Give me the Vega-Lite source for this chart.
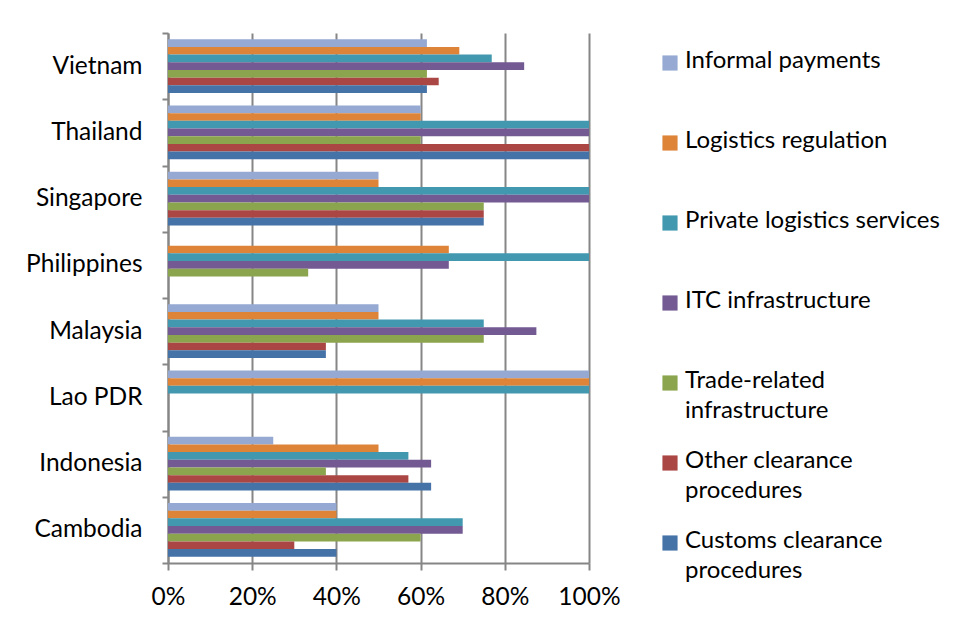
{
  "$schema": "https://vega.github.io/schema/vega-lite/v6.json",
  "width": 421,
  "height": 530,
  "autosize": {"type": "none"},
  "padding": {"left": 168, "top": 33, "right": 368, "bottom": 66},
  "background": "white",
  "config": {"view": {"stroke": null}, "font": "Lato"},
  "data": {
    "values": [
      {"country": "Vietnam", "factor": "Informal payments", "value": 0.615},
      {"country": "Vietnam", "factor": "Logistics regulation", "value": 0.692},
      {"country": "Vietnam", "factor": "Private logistics services", "value": 0.769},
      {"country": "Vietnam", "factor": "ITC infrastructure", "value": 0.846},
      {"country": "Vietnam", "factor": "Trade-related infrastructure", "value": 0.615},
      {"country": "Vietnam", "factor": "Other clearance procedures", "value": 0.643},
      {"country": "Vietnam", "factor": "Customs clearance procedures", "value": 0.615},
      {"country": "Thailand", "factor": "Informal payments", "value": 0.6},
      {"country": "Thailand", "factor": "Logistics regulation", "value": 0.6},
      {"country": "Thailand", "factor": "Private logistics services", "value": 1.0},
      {"country": "Thailand", "factor": "ITC infrastructure", "value": 1.0},
      {"country": "Thailand", "factor": "Trade-related infrastructure", "value": 0.6},
      {"country": "Thailand", "factor": "Other clearance procedures", "value": 1.0},
      {"country": "Thailand", "factor": "Customs clearance procedures", "value": 1.0},
      {"country": "Singapore", "factor": "Informal payments", "value": 0.5},
      {"country": "Singapore", "factor": "Logistics regulation", "value": 0.5},
      {"country": "Singapore", "factor": "Private logistics services", "value": 1.0},
      {"country": "Singapore", "factor": "ITC infrastructure", "value": 1.0},
      {"country": "Singapore", "factor": "Trade-related infrastructure", "value": 0.75},
      {"country": "Singapore", "factor": "Other clearance procedures", "value": 0.75},
      {"country": "Singapore", "factor": "Customs clearance procedures", "value": 0.75},
      {"country": "Philippines", "factor": "Logistics regulation", "value": 0.667},
      {"country": "Philippines", "factor": "Private logistics services", "value": 1.0},
      {"country": "Philippines", "factor": "ITC infrastructure", "value": 0.667},
      {"country": "Philippines", "factor": "Trade-related infrastructure", "value": 0.333},
      {"country": "Malaysia", "factor": "Informal payments", "value": 0.5},
      {"country": "Malaysia", "factor": "Logistics regulation", "value": 0.5},
      {"country": "Malaysia", "factor": "Private logistics services", "value": 0.75},
      {"country": "Malaysia", "factor": "ITC infrastructure", "value": 0.875},
      {"country": "Malaysia", "factor": "Trade-related infrastructure", "value": 0.75},
      {"country": "Malaysia", "factor": "Other clearance procedures", "value": 0.375},
      {"country": "Malaysia", "factor": "Customs clearance procedures", "value": 0.375},
      {"country": "Lao PDR", "factor": "Informal payments", "value": 1.0},
      {"country": "Lao PDR", "factor": "Logistics regulation", "value": 1.0},
      {"country": "Lao PDR", "factor": "Private logistics services", "value": 1.0},
      {"country": "Indonesia", "factor": "Informal payments", "value": 0.25},
      {"country": "Indonesia", "factor": "Logistics regulation", "value": 0.5},
      {"country": "Indonesia", "factor": "Private logistics services", "value": 0.571},
      {"country": "Indonesia", "factor": "ITC infrastructure", "value": 0.625},
      {"country": "Indonesia", "factor": "Trade-related infrastructure", "value": 0.375},
      {"country": "Indonesia", "factor": "Other clearance procedures", "value": 0.571},
      {"country": "Indonesia", "factor": "Customs clearance procedures", "value": 0.625},
      {"country": "Cambodia", "factor": "Informal payments", "value": 0.4},
      {"country": "Cambodia", "factor": "Logistics regulation", "value": 0.4},
      {"country": "Cambodia", "factor": "Private logistics services", "value": 0.7},
      {"country": "Cambodia", "factor": "ITC infrastructure", "value": 0.7},
      {"country": "Cambodia", "factor": "Trade-related infrastructure", "value": 0.6},
      {"country": "Cambodia", "factor": "Other clearance procedures", "value": 0.3},
      {"country": "Cambodia", "factor": "Customs clearance procedures", "value": 0.4}
    ]
  },
  "mark": {"type": "bar"},
  "encoding": {
    "y": {
      "field": "country",
      "type": "nominal",
      "sort": ["Vietnam", "Thailand", "Singapore", "Philippines", "Malaysia", "Lao PDR", "Indonesia", "Cambodia"],
      "scale": {"paddingInner": 0, "paddingOuter": 0},
      "axis": {
        "title": null,
        "tickBand": "extent",
        "labelFont": "Lato",
        "labelFontSize": 24.5,
        "labelColor": "#000000",
        "labelPadding": 20,
        "tickSize": 6,
        "tickColor": "#868686",
        "tickWidth": 2,
        "domainColor": "#868686",
        "domainWidth": 2
      }
    },
    "yOffset": {
      "field": "factor",
      "type": "nominal",
      "sort": ["Informal payments", "Logistics regulation", "Private logistics services", "ITC infrastructure", "Trade-related infrastructure", "Other clearance procedures", "Customs clearance procedures"],
      "scale": {"domain": ["Informal payments", "Logistics regulation", "Private logistics services", "ITC infrastructure", "Trade-related infrastructure", "Other clearance procedures", "Customs clearance procedures"], "paddingInner": 0, "paddingOuter": 0.82}
    },
    "x": {
      "field": "value",
      "type": "quantitative",
      "scale": {"domain": [0, 1]},
      "axis": {
        "title": null,
        "format": ".0%",
        "values": [0, 0.2, 0.4, 0.6, 0.8, 1],
        "grid": true,
        "gridColor": "#868686",
        "gridWidth": 2,
        "tickSize": 7,
        "tickColor": "#868686",
        "tickWidth": 2,
        "domainColor": "#868686",
        "domainWidth": 2,
        "labelFont": "Lato",
        "labelFontSize": 24.5,
        "labelColor": "#000000",
        "labelPadding": 15,
        "labelFlush": false
      }
    },
    "color": {
      "field": "factor",
      "type": "nominal",
      "scale": {
        "domain": ["Informal payments", "Logistics regulation", "Private logistics services", "ITC infrastructure", "Trade-related infrastructure", "Other clearance procedures", "Customs clearance procedures"],
        "range": ["#95A9D2", "#DD8439", "#4298AF", "#735A92", "#8BA54E", "#AA4744", "#4572A7"]
      },
      "legend": {
        "title": null,
        "orient": "none",
        "legendX": 490,
        "legendY": 18,
        "padding": 0,
        "symbolType": "square",
        "symbolSize": 230,
        "symbolStrokeWidth": 0,
        "symbolOpacity": 1,
        "labelFont": "Lato",
        "labelFontSize": 24,
        "labelColor": "#000000",
        "labelOffset": 3,
        "labelLimit": 300,
        "labelBaseline": "top",
        "rowPadding": 26,
        "labelExpr": "datum.label == 'Trade-related infrastructure' ? ['Trade-related', 'infrastructure'] : datum.label == 'Other clearance procedures' ? ['Other clearance', 'procedures'] : datum.label == 'Customs clearance procedures' ? ['Customs clearance', 'procedures'] : [datum.label, '']",
        "encode": {"labels": {"update": {"dy": {"value": -14}, "lineHeight": {"value": 30}}}}
      }
    }
  }
}
